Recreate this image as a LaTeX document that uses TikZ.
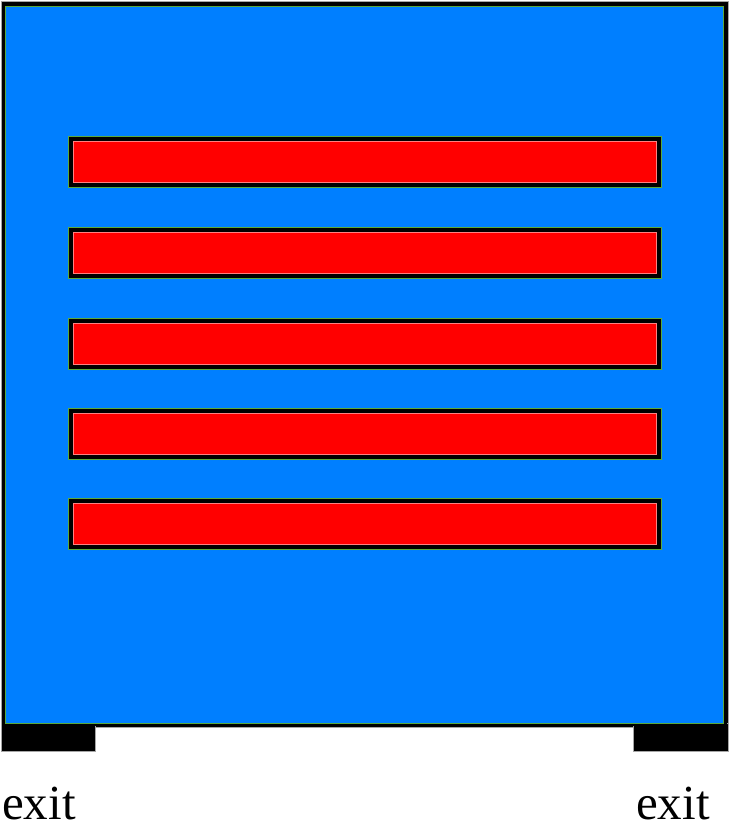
\documentclass[tikz,border=0pt]{standalone}
\usepackage{fontspec}
\setmainfont{Liberation Serif}
\definecolor{bgblue}{RGB}{0,127,255}
\definecolor{barred}{RGB}{255,0,0}
\definecolor{edgegreen}{RGB}{90,170,60}
\tikzset{
  frame/.style={fill=black, draw=gray!70, line width=0.6pt},
  bluearea/.style={fill=bgblue, draw=edgegreen, line width=0.4pt},
  barframe/.style={fill=black, draw=edgegreen, line width=0.8pt},
  barfill/.style={fill=barred, draw=red!50!white, line width=0.6pt},
  exitlabel/.style={anchor=base west, inner sep=0pt, text depth=0pt, font=\fontsize{49}{49}\selectfont}
}
\begin{document}
\begin{tikzpicture}[x=1pt,y=-1pt]
\useasboundingbox (0,0) rectangle (729,830);
% outer frame
\path[frame] (1,1.5) rectangle (728,727);
\path[frame] (1,723) rectangle (95,751);
\path[frame] (633,723) rectangle (728,751);
\path[fill=black] (2,722) rectangle (727,726);
\path[bluearea] (5.5,6.5) rectangle (723.5,723);
% bars
\foreach \y [count=\i] in {136,227,318,408,498} {
  \path[barframe] (68,\y) rectangle (661,\y+51);
  \path[barfill] (73,\y+5) rectangle (656,\y+46);
}
% labels
\node[exitlabel] (exitL) at (2,819) {exit};
\node[exitlabel] (exitR) at (636,819) {exit};
\end{tikzpicture}
\end{document}
